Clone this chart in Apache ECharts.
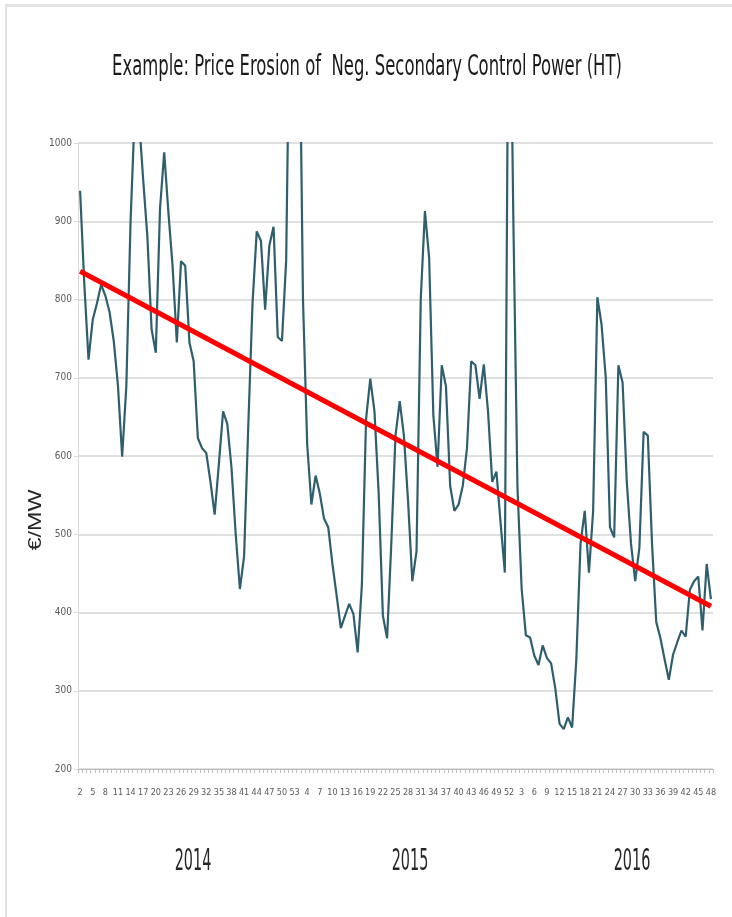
<!DOCTYPE html>
<html>
<head>
<meta charset="utf-8">
<title>Price Erosion of Neg. Secondary Control Power (HT)</title>
<script src="https://cdn.jsdelivr.net/npm/echarts@6/dist/echarts.min.js"></script>
<style>
  html, body { margin: 0; padding: 0; background: #ffffff; }
  #chart { width: 732px; height: 917px; }
</style>
</head>
<body>
<div id="chart"></div>
<script>
// Calendar weeks covered per year: [first, last]
const weekSpans = [[2, 53], [2, 52], [1, 48]];
const yearLabels = ['2014', '2015', '2016'];
const chartTitle = 'Example: Price Erosion of  Neg. Secondary Control Power (HT)';
const unitLabel = '€/MW';
const yMin = 200, yMax = 1000, yStep = 100;

// Weekly prices in €/MW (values above 1000 run off the top of the plot)
const prices2014 = [
  939, 820, 723, 774, 795, 819, 805, 784, 747, 690,
  599, 690, 900, 1040, 1032, 953, 880, 762, 732, 916,
  988, 911, 842, 745, 849, 843, 745, 721, 623, 610,
  604, 567, 525, 590, 657, 641, 585, 500, 430, 472,
  640, 795, 887, 875, 787, 869, 893, 752, 747, 850,
  1250, 1300
];
const prices2015 = [
  1250, 800, 615, 538, 575, 552, 520, 509, 462, 422,
  380, 396, 411, 398, 349, 435, 647, 699, 657, 552,
  396, 367, 488, 626, 670, 626, 541, 440, 478, 800,
  913, 853, 652, 586, 716, 689, 562, 530, 538, 562,
  610, 721, 716, 673, 717, 657, 567, 580, 514, 451,
  1340
];
const prices2016 = [
  911, 560, 430, 371, 368, 345, 333, 358, 342, 335,
  303, 258, 251, 266, 253, 340, 488, 530, 451, 530,
  803, 768, 700, 509, 496, 716, 694, 567, 488, 440,
  483, 631, 626, 488, 388, 367, 340, 314, 346, 362,
  377, 369, 429, 440, 446, 377, 462, 417
];

// Linear trend: value at the first and at the last week
const trendStart = 836;
const trendEnd = 408;

// Week-number categories, year after year
const weeks = [];
weekSpans.forEach(function (span) {
  for (let w = span[0]; w <= span[1]; w++) weeks.push(String(w));
});
const prices = prices2014.concat(prices2015, prices2016);
const trend = [[0, trendStart], [weeks.length - 1, trendEnd]];

const narrow = "'Liberation Sans Narrow', 'Arial Narrow', 'DejaVu Sans Condensed', 'Liberation Sans', sans-serif";

const chart = echarts.init(document.getElementById('chart'), null, { renderer: 'canvas' });

const gridLeft = 78, gridRight = 19, gridTop = 143, gridBottom = 148;

// Year captions centred under their block of weeks
const yearCenters = [193, 410, 632];
const yearText = yearLabels.map(function (label, k) {
  return {
    type: 'text', x: yearCenters[k], y: 862, scaleY: 1.85,
    style: { text: label, fontSize: 16, fontFamily: narrow, fill: '#262626', align: 'center', verticalAlign: 'middle' }
  };
});

chart.setOption({
  backgroundColor: '#ffffff',
  animation: false,
  grid: { left: gridLeft, right: gridRight, top: gridTop, bottom: gridBottom, containLabel: false },
  xAxis: {
    type: 'category',
    data: weeks,
    boundaryGap: true,
    axisLine: { show: true, lineStyle: { color: '#bfbfbf', width: 1 } },
    axisTick: { show: true, interval: 0, length: 4, lineStyle: { color: '#bfbfbf' } },
    axisLabel: { interval: 2, margin: 19, fontSize: 9, fontFamily: narrow, color: '#595959', hideOverlap: false },
    splitLine: { show: false }
  },
  yAxis: {
    type: 'value',
    min: yMin, max: yMax, interval: yStep,
    axisLine: { show: true, lineStyle: { color: '#d9d9d9', width: 1 } },
    axisTick: { show: true, length: 4, lineStyle: { color: '#d9d9d9' } },
    axisLabel: {
      margin: 6, fontSize: 10, fontFamily: narrow, color: '#595959',
      formatter: function (v) { return String(v); }
    },
    splitLine: { show: true, lineStyle: { color: '#d6d6d6', width: 1.5 } }
  },
  series: [
    {
      name: 'Price', type: 'line', data: prices,
      showSymbol: false, symbol: 'none', clip: true,
      lineStyle: { color: '#2f5f6d', width: 2.2 },
      itemStyle: { color: '#2f5f6d' },
      z: 2
    },
    {
      name: 'Trend', type: 'line', data: trend,
      showSymbol: false, symbol: 'none', clip: true,
      lineStyle: { color: '#ff0000', width: 5 },
      itemStyle: { color: '#ff0000' },
      z: 3
    }
  ],
  graphic: [
    // frame edges
    { type: 'line', shape: { x1: 5, y1: 5.5, x2: 732, y2: 5.5 }, style: { stroke: '#e3e3e3', lineWidth: 3 }, silent: true },
    { type: 'line', shape: { x1: 6, y1: 4, x2: 6, y2: 917 }, style: { stroke: '#e3e3e3', lineWidth: 2 }, silent: true },
    {
      type: 'text', x: 367, y: 68, scaleY: 1.55,
      style: { text: chartTitle, fontSize: 18.3, fontFamily: narrow, fill: '#1a1a1a', align: 'center', verticalAlign: 'middle' }
    },
    {
      type: 'text', x: 36, y: 520, rotation: Math.PI / 2, scaleX: 1.3,
      style: { text: unitLabel, fontSize: 18, fontFamily: "'Liberation Sans', sans-serif", fill: '#262626', align: 'center', verticalAlign: 'middle' }
    }
  ].concat(yearText)
});
</script>
</body>
</html>
